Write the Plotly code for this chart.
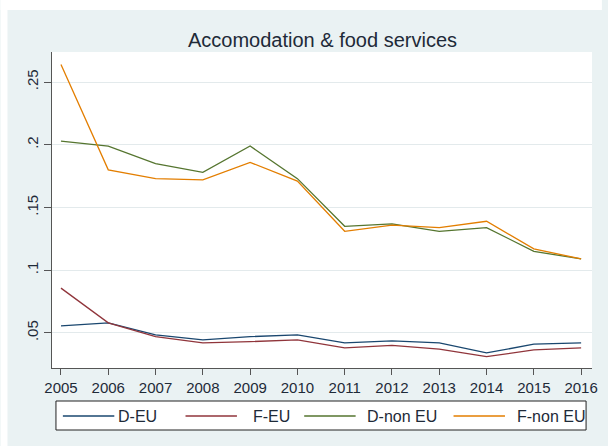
import plotly.graph_objects as go

# Shares by year, 2005-2016
years = [2005, 2006, 2007, 2008, 2009, 2010, 2011, 2012, 2013, 2014, 2015, 2016]
d_eu = [0.0556, 0.058, 0.0484, 0.0445, 0.047, 0.0484, 0.042, 0.0436, 0.042, 0.034, 0.041, 0.042]
f_eu = [0.0857, 0.058, 0.047, 0.042, 0.043, 0.0445, 0.038, 0.040, 0.037, 0.031, 0.0365, 0.038]
d_non_eu = [0.203, 0.199, 0.185, 0.178, 0.199, 0.173, 0.135, 0.137, 0.131, 0.134, 0.115, 0.109]
f_non_eu = [0.264, 0.180, 0.173, 0.172, 0.186, 0.171, 0.131, 0.136, 0.134, 0.139, 0.117, 0.109]

series_names = ["D-EU", "F-EU", "D-non EU", "F-non EU"]
series_values = [d_eu, f_eu, d_non_eu, f_non_eu]
series_colors = ["#1a476f", "#90353b", "#55752f", "#e37e00"]

y_tick_vals = [0.05, 0.10, 0.15, 0.20, 0.25]
y_tick_text = [".05", ".1", ".15", ".2", ".25"]

title_text = "Accomodation & food services"

W, H = 608, 446
L, R, T, B = 52, 10, 52, 78
PW, PH = W - L - R, H - T - B


def px_x(px):
    return (px - L) / PW


def px_y(py):
    return (H - B - py) / PH


font_family = "Liberation Sans, Arial, sans-serif"
text_color = "#1e2a38"
bg = "#eaf2f3"

fig = go.Figure()
for name, vals, col in zip(series_names, series_values, series_colors):
    fig.add_trace(go.Scatter(
        x=years, y=vals, mode="lines", name=name,
        line=dict(color=col, width=1.3), showlegend=False,
    ))

shapes = [
    # white strips around the graph region
    dict(type="rect", xref="paper", yref="paper", x0=px_x(0), x1=px_x(W),
         y0=px_y(10), y1=px_y(0), fillcolor="white", line=dict(width=0), layer="above"),
    dict(type="rect", xref="paper", yref="paper", x0=px_x(0), x1=px_x(7),
         y0=px_y(H), y1=px_y(0), fillcolor="white", line=dict(width=0), layer="above"),
    # legend box
    dict(type="rect", xref="paper", yref="paper", x0=px_x(56), x1=px_x(592),
         y0=px_y(430), y1=px_y(401), fillcolor="white",
         line=dict(color="#222222", width=1), layer="above"),
]
annotations = []

line_starts = [63, 187, 307, 458]
text_starts = [117, 253, 368, 520]
legend_y = 416
for name, col, ls, ts in zip(series_names, series_colors, line_starts, text_starts):
    shapes.append(dict(type="line", xref="paper", yref="paper",
                       x0=px_x(ls), x1=px_x(ls + 52), y0=px_y(legend_y), y1=px_y(legend_y),
                       line=dict(color=col, width=1.3), layer="above"))
    annotations.append(dict(text=name, xref="paper", yref="paper",
                            x=px_x(ts), y=px_y(legend_y), xanchor="left", yanchor="middle",
                            showarrow=False, font=dict(size=16, color=text_color, family=font_family)))

annotations.append(dict(text=title_text, xref="paper", yref="paper",
                        x=px_x(325), y=px_y(40), xanchor="center", yanchor="middle",
                        showarrow=False, font=dict(size=20, color=text_color, family=font_family)))

fig.update_layout(
    width=W, height=H,
    margin=dict(l=L, r=R, t=T, b=B, pad=0),
    paper_bgcolor=bg, plot_bgcolor="white",
    font=dict(family=font_family, color=text_color),
    shapes=shapes, annotations=annotations,
    showlegend=False,
)
fig.update_xaxes(
    range=[2004.81, 2016.23], tickmode="array", tickvals=years,
    ticktext=[str(y) for y in years],
    ticks="outside", ticklen=6, tickcolor="#555555", tickwidth=1,
    showline=True, linecolor="#555555", linewidth=1,
    showgrid=False, zeroline=False,
    tickfont=dict(size=15, color=text_color, family=font_family),
)
fig.update_yaxes(
    range=[0.022, 0.274], tickmode="array", tickvals=y_tick_vals, ticktext=y_tick_text,
    tickangle=-90, ticks="outside", ticklen=7, tickcolor="#555555", tickwidth=1,
    showline=True, linecolor="#555555", linewidth=1,
    showgrid=True, gridcolor="#e3eaec", gridwidth=1, zeroline=False,
    tickfont=dict(size=15, color=text_color, family=font_family),
)

fig.write_html("out.html")
